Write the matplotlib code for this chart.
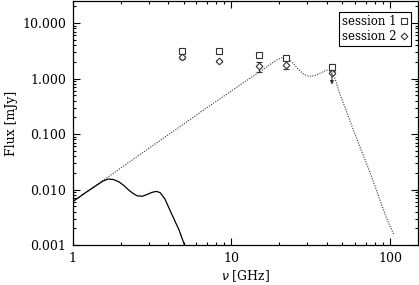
import numpy as np
import matplotlib
matplotlib.use("Agg")
import matplotlib.pyplot as plt
from matplotlib.lines import Line2D
from matplotlib.ticker import FixedLocator, FixedFormatter, LogLocator, NullFormatter

# observed fluxes (GHz, mJy)
freq = [4.9, 8.4, 15.0, 22.0, 43.0]
s1_flux = [3.1, 3.1, 2.7, 2.36, 1.62]
s1_err = [0.12, 0.12, 0.2, 0.2, 0.25]
s2_flux = [2.4, 2.05, 1.67, 1.79, 1.27]
s2_err_lo = [0.1, 0.1, 0.35, 0.3, 0.0]
s2_err_hi = [0.1, 0.1, 0.3, 0.4, 0.0]
s2_limit_freq = 43.0
s2_limit_to = 0.78

# model curves
model_nu = [1.0, 1.5, 2.0, 3.0, 5.0, 7.0, 10.0, 12.0, 14.0, 16.0, 18.0, 19.5, 21.0,
            22.5, 24.0, 26.0, 28.0, 30.0, 32.0, 34.0, 36.0, 38.0, 40.0, 42.0, 43.5,
            45.0, 47.5, 52.0, 58.0, 66.0, 74.0, 84.0, 94.0, 106.0]
model_flux = [0.0061, 0.0137, 0.0244, 0.055, 0.152, 0.30, 0.60, 0.86, 1.15, 1.5,
              1.9, 2.2, 2.4, 2.35, 2.0, 1.55, 1.25, 1.12, 1.1, 1.15, 1.24, 1.34,
              1.42, 1.42, 1.3, 1.0, 0.6, 0.30, 0.13, 0.05, 0.022, 0.0081, 0.0033, 0.0015]

low_nu = [1.0, 1.2, 1.4, 1.55, 1.67, 1.8, 1.95, 2.1, 2.25, 2.4, 2.55, 2.75, 2.95,
          3.15, 3.36, 3.55, 3.8, 4.07, 4.35, 4.66, 5.06, 5.3]
low_flux = [0.0061, 0.0088, 0.0118, 0.0143, 0.0155, 0.0152, 0.0138, 0.0118, 0.0098,
            0.0085, 0.0077, 0.0076, 0.0082, 0.0089, 0.0093, 0.0088, 0.0068, 0.0044,
            0.0029, 0.0019, 0.001, 0.0007]

plt.rcParams['font.family'] = ['DejaVu Serif']
plt.rcParams['font.size'] = 9

fig = plt.figure(figsize=(4.19, 2.85), dpi=100)
ax = fig.add_axes([0.174, 0.140, 0.8236, 0.8565])

ax.plot(model_nu, model_flux, color='0.2', lw=0.8, ls=(0, (1, 1.3)))
ax.plot(low_nu, low_flux, color='black', lw=0.9)

ax.errorbar(freq, s1_flux, yerr=s1_err, fmt='s', ms=4.2, mfc='white', mec='0.2',
            mew=0.8, ecolor='0.2', elinewidth=0.8, capsize=2.0)
ax.errorbar(freq, s2_flux, yerr=[s2_err_lo, s2_err_hi], fmt='D', ms=3.4, mfc='white',
            mec='0.2', mew=0.8, ecolor='0.2', elinewidth=0.8, capsize=2.0)
ax.annotate('', xy=(s2_limit_freq, s2_limit_to), xytext=(s2_limit_freq, s2_flux[-1]),
            arrowprops=dict(arrowstyle='-|>', color='0.2', lw=0.8,
                            mutation_scale=5, shrinkA=0, shrinkB=0))

ax.set_xscale('log')
ax.set_yscale('log')
ax.set_xlim(1, 150)
ax.set_ylim(0.001, 25)

ax.xaxis.set_major_locator(FixedLocator([1, 10, 100]))
ax.xaxis.set_major_formatter(FixedFormatter(['1', '10', '100']))
ax.xaxis.set_minor_locator(LogLocator(base=10, subs=np.arange(2, 10)))
ax.xaxis.set_minor_formatter(NullFormatter())
ax.yaxis.set_major_locator(FixedLocator([0.001, 0.01, 0.1, 1, 10]))
ax.yaxis.set_major_formatter(FixedFormatter(['0.001', '0.010', '0.100', '1.000', '10.000']))
ax.yaxis.set_minor_locator(LogLocator(base=10, subs=np.arange(2, 10)))
ax.yaxis.set_minor_formatter(NullFormatter())

ax.tick_params(which='both', direction='in', top=True, right=True, width=0.8)
ax.tick_params(which='major', length=5, pad=5)
ax.tick_params(which='minor', length=2.5)
for s in ax.spines.values():
    s.set_linewidth(0.9)

ax.set_xlabel(r'$\nu$ [GHz]', labelpad=2)
ax.set_ylabel('Flux [mJy]', labelpad=3)

handles = [Line2D([], [], marker='s', ls='none', ms=4.2, mfc='white', mec='0.2', mew=0.8),
           Line2D([], [], marker='D', ls='none', ms=3.4, mfc='white', mec='0.2', mew=0.8)]
leg = ax.legend(handles, ['session 1', 'session 2'], loc='upper right',
                markerfirst=False, fancybox=False, framealpha=1,
                edgecolor='black', handlelength=0.7, handletextpad=0.3,
                borderpad=0.25, labelspacing=0.15, borderaxespad=0,
                bbox_to_anchor=(0.98, 0.955), fontsize=8.5)
leg.get_frame().set_linewidth(0.8)

fig.savefig('out.png', dpi=100)
